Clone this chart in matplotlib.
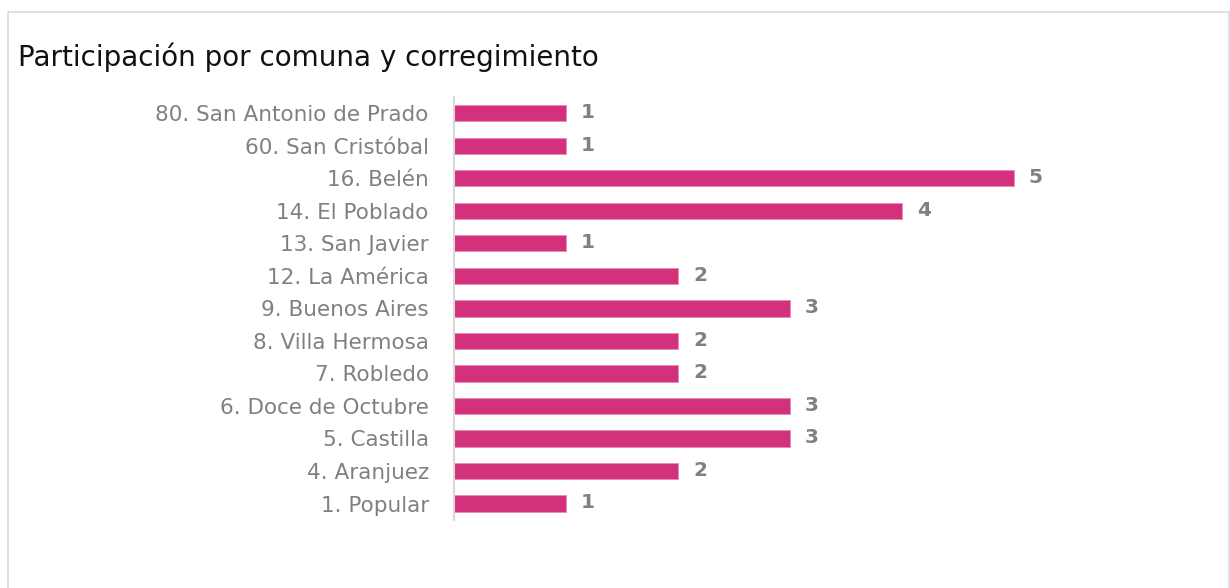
import matplotlib.pyplot as plt
from matplotlib.patches import Rectangle

# Data (top to bottom as shown)
comunas = ["80. San Antonio de Prado", "60. San Cristóbal", "16. Belén",
           "14. El Poblado", "13. San Javier", "12. La América",
           "9. Buenos Aires", "8. Villa Hermosa", "7. Robledo",
           "6. Doce de Octubre", "5. Castilla", "4. Aranjuez", "1. Popular"]
participantes = [1, 1, 5, 4, 1, 2, 3, 2, 2, 3, 3, 2, 1]

bar_color = "#D4317C"
gray = "#808080"

fig = plt.figure(figsize=(12.3, 5.88), dpi=100)
ax = fig.add_axes([0.369, 0.116, 0.546, 0.719])

pos = list(range(len(comunas)))[::-1]
ax.barh(pos, participantes, height=0.5, color=bar_color,
        edgecolor="#e68ab5", linewidth=0.6)

for y, v in zip(pos, participantes):
    ax.text(v + 0.2, y + 0.02, str(v), va="center", ha="center",
            fontsize=14.5, fontweight="bold", color=gray, family="DejaVu Sans")

ax.set_xlim(0, 6)
ax.set_ylim(-0.5, len(comunas) - 0.5)
ax.set_yticks(pos)
ax.set_yticklabels(comunas, fontsize=15.5, color=gray)
ax.tick_params(axis="y", length=0, pad=18)
ax.set_xticks([])
for s in ["top", "right", "bottom"]:
    ax.spines[s].set_visible(False)
ax.spines["left"].set_color("#d9d9d9")
ax.spines["left"].set_linewidth(1.5)

fig.text(18 / 1230, 1 - 57 / 588, "Participación por comuna y corregimiento",
         fontsize=20, color="#111111", va="center", ha="left")

fig.patches.append(Rectangle((8 / 1230, -0.01), 1221 / 1230, 1 - 12 / 588 + 0.01,
                             transform=fig.transFigure, fill=False,
                             edgecolor="#d9d9d9", linewidth=1.2))

fig.savefig("out.png", dpi=100)
